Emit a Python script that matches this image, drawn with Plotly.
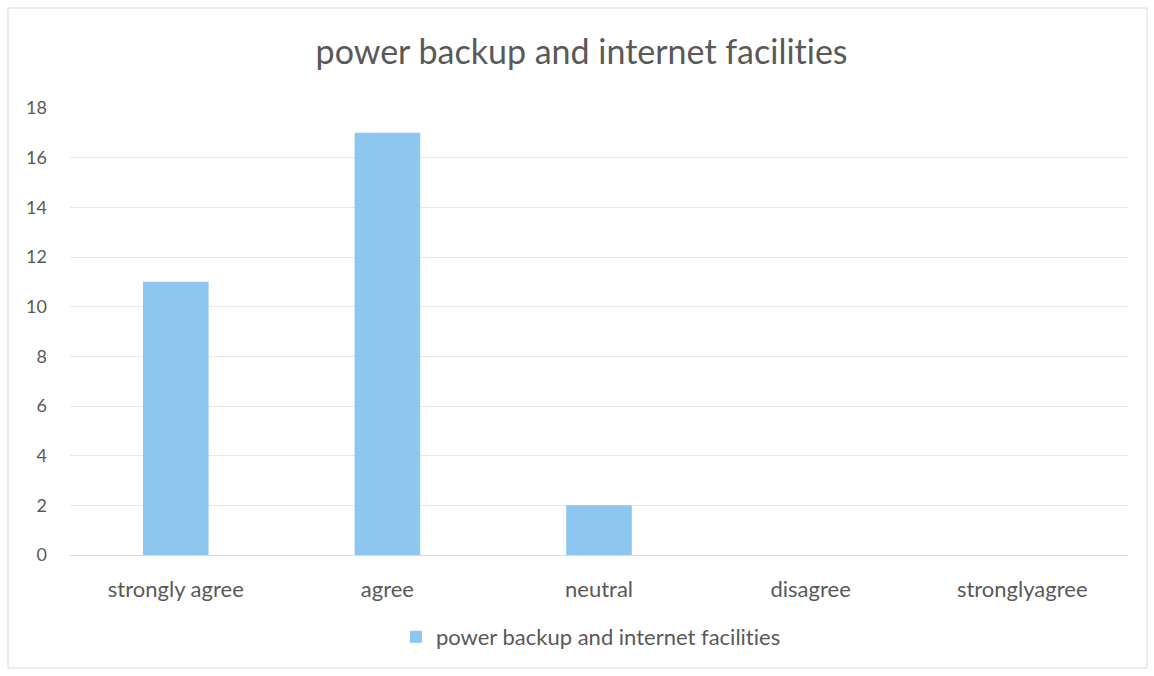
import plotly.graph_objects as go

categories = ["strongly agree", "agree", "neutral", "disagree", "stronglyagree"]
values = [11, 17, 2, 0, 0]
series_name = "power backup and internet facilities"
title_text = "power backup and internet facilities"
y_ticks = [0, 2, 4, 6, 8, 10, 12, 14, 16, 18]

fig = go.Figure()
fig.add_trace(go.Bar(
    x=categories, y=values, name=series_name,
    marker=dict(color="#8DC6EE", line=dict(width=0)),
    showlegend=True,
))

W, H = 1154, 676
ml, mr, mt, mb = 70, 26, 108, 121
ph = H - mt - mb
pw = W - ml - mr

fig.update_layout(
    width=W, height=H,
    margin=dict(l=ml, r=mr, t=mt, b=mb),
    paper_bgcolor="white", plot_bgcolor="white",
    font=dict(family="Lato, Open Sans, sans-serif", color="#595959", size=18),
    title=dict(text=title_text, x=0.504, xanchor="center", y=1 - 52 / H, yanchor="middle",
               font=dict(size=34, color="#595959")),
    bargap=0.69,
    showlegend=True,
    legend=dict(orientation="h", x=0.4924, xanchor="center", y=-(637 - (H - mb)) / ph,
                yanchor="middle", font=dict(size=22, color="#595959"),
                itemwidth=30),
    xaxis=dict(showgrid=False, showline=False, ticks="", tickfont=dict(size=22, color="#595959"),
               ticklabelstandoff=19),
    yaxis=dict(range=[0, 18], tickvals=y_ticks, showgrid=True, gridcolor="#E8E8E8",
               zeroline=True, zerolinecolor="#D9D9D9", zerolinewidth=1,
               showline=False, ticks="", tickfont=dict(size=18, color="#595959"),
               ticklabelstandoff=22),
    shapes=[dict(type="rect", xref="paper", yref="paper",
                 x0=(8 - ml) / pw, x1=(1147 - ml) / pw,
                 y0=-(668 - (H - mb)) / ph, y1=1 + (mt - 8) / ph,
                 line=dict(color="#D9D9D9", width=1), layer="below")],
)

fig.write_html("out.html", config={"displayModeBar": False})
with open("out.html", "r", encoding="utf-8") as f:
    html = f.read()
html = html.replace(
    "<body>",
    '<body style="margin:0;padding:0;overflow:hidden">'
    '<style>text{font-variant-ligatures:none !important;font-feature-settings:"liga" 0 !important;}</style>',
    1,
)
with open("out.html", "w", encoding="utf-8") as f:
    f.write(html)
